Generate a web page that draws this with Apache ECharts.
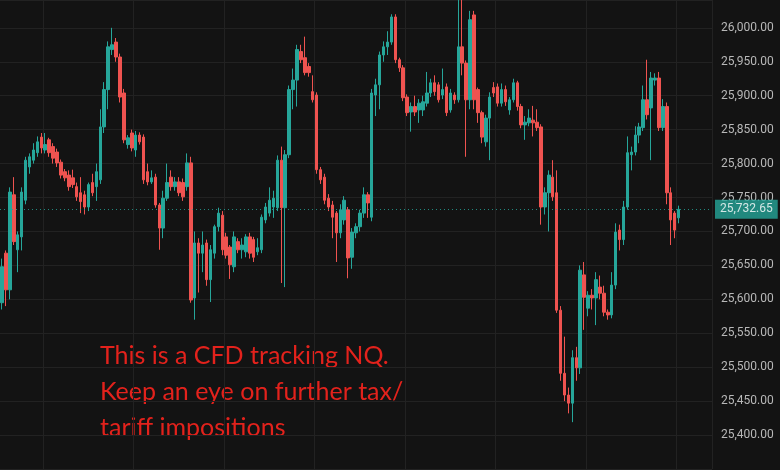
<!DOCTYPE html>
<html>
<head>
<meta charset="utf-8">
<script src="https://cdn.jsdelivr.net/npm/echarts@6/dist/echarts.min.js"></script>
<style>
  html, body { margin: 0; padding: 0; background: #131313; }
  #chart { width: 780px; height: 470px; }
</style>
</head>
<body>
<div id="chart"></div>
<script>
// OHLC, one value per candle
const opens = [
  25595, 25668, 25614, 25754, 25673, 25692, 25746, 25795, 25805, 25816,
  25839, 25820, 25835, 25825, 25817, 25802, 25788, 25783, 25779, 25766,
  25757, 25754, 25736, 25772, 25766, 25776, 25854, 25909, 25968, 25979,
  25957, 25904, 25828, 25845, 25820, 25842, 25839, 25788, 25773, 25780,
  25739, 25705, 25749, 25780, 25766, 25773, 25772, 25766, 25801, 25602,
  25683, 25668, 25683, 25629, 25668, 25707, 25724, 25692, 25677, 25648,
  25685, 25673, 25670, 25692, 25688, 25670, 25673, 25717, 25727, 25736,
  25735, 25805, 25735, 25813, 25909, 25923, 25965, 25956, 25943, 25906,
  25901, 25791, 25780, 25749, 25739, 25727, 25698, 25717, 25732, 25662,
  25698, 25707, 25727, 25754, 25721, 25901, 25916, 25960, 25972, 25979,
  26016, 25953, 25941, 25898, 25876, 25884, 25879, 25879, 25889, 25904,
  25919, 25916, 25901, 25913, 25879, 25901, 25894, 25972, 25948, 25894,
  26019, 25909, 25875, 25832, 25867, 25912, 25913, 25889, 25909, 25879,
  25894, 25919, 25884, 25857, 25860, 25864, 25861, 25854, 25736, 25757,
  25780, 25757, 25584, 25491, 25459, 25447, 25514, 25499, 25636, 25587,
  25606, 25602, 25618, 25609, 25581, 25577, 25621, 25702, 25688, 25736,
  25813, 25817, 25842, 25853, 25894, 25882, 25923, 25926, 25853, 25884,
  25757, 25727, 25720
];
const closes = [
  25648, 25614, 25758, 25685, 25695, 25758, 25805, 25810, 25820, 25832,
  25823, 25828, 25816, 25808, 25801, 25783, 25779, 25766, 25769, 25751,
  25744, 25736, 25769, 25757, 25788, 25854, 25909, 25972, 25975, 25957,
  25898, 25835, 25838, 25823, 25842, 25832, 25776, 25773, 25779, 25739,
  25705, 25749, 25772, 25766, 25773, 25757, 25751, 25801, 25599, 25683,
  25668, 25680, 25629, 25673, 25707, 25727, 25673, 25665, 25651, 25692,
  25673, 25680, 25692, 25668, 25662, 25676, 25721, 25736, 25746, 25749,
  25805, 25735, 25813, 25909, 25923, 25968, 25953, 25934, 25934, 25894,
  25791, 25776, 25746, 25736, 25721, 25698, 25732, 25746, 25661, 25699,
  25707, 25727, 25754, 25742, 25904, 25916, 25960, 25972, 25979, 26016,
  25953, 25941, 25897, 25875, 25884, 25876, 25889, 25891, 25904, 25919,
  25906, 25894, 25909, 25875, 25904, 25894, 25972, 25948, 25894, 26012,
  25894, 25875, 25839, 25867, 25898, 25904, 25889, 25909, 25891, 25894,
  25919, 25884, 25857, 25861, 25867, 25860, 25853, 25736, 25757, 25783,
  25751, 25584, 25491, 25459, 25447, 25514, 25499, 25643, 25603, 25606,
  25602, 25629, 25609, 25581, 25577, 25621, 25699, 25688, 25736, 25816,
  25817, 25842, 25854, 25894, 25872, 25926, 25926, 25853, 25884, 25757,
  25717, 25702, 25732.65
];
const lows = [
  25585, 25590, 25600, 25680, 25640, 25672, 25740, 25785, 25800, 25810,
  25815, 25815, 25810, 25800, 25795, 25778, 25774, 25760, 25764, 25745,
  25727, 25725, 25730, 25752, 25745, 25770, 25845, 25880, 25960, 25950,
  25890, 25830, 25822, 25818, 25810, 25828, 25770, 25768, 25770, 25735,
  25673, 25690, 25745, 25760, 25760, 25752, 25745, 25760, 25595, 25570,
  25610, 25640, 25620, 25596, 25660, 25700, 25665, 25660, 25630, 25640,
  25668, 25660, 25662, 25660, 25655, 25665, 25668, 25712, 25722, 25720,
  25730, 25624, 25618, 25808, 25880, 25884, 25948, 25930, 25928, 25890,
  25785, 25770, 25740, 25730, 25690, 25655, 25690, 25710, 25631, 25645,
  25690, 25700, 25720, 25720, 25715, 25870, 25880, 25950, 25960, 25975,
  25948, 25935, 25892, 25870, 25847, 25870, 25860, 25870, 25884, 25898,
  25900, 25890, 25895, 25870, 25875, 25888, 25890, 25930, 25810, 25880,
  25880, 25860, 25830, 25825, 25805, 25898, 25884, 25884, 25885, 25872,
  25890, 25878, 25852, 25835, 25855, 25840, 25848, 25710, 25725, 25700,
  25745, 25580, 25480, 25450, 25432, 25419, 25480, 25490, 25555, 25575,
  25585, 25562, 25600, 25575, 25570, 25572, 25615, 25672, 25680, 25732,
  25790, 25812, 25830, 25848, 25865, 25805, 25915, 25848, 25848, 25740,
  25680, 25690, 25712
];
const highs = [
  25660, 25672, 25765, 25780, 25700, 25765, 25810, 25815, 25830, 25840,
  25845, 25845, 25838, 25830, 25822, 25806, 25792, 25790, 25791, 25772,
  25780, 25760, 25772, 25785, 25800, 25880, 25920, 25980, 26000, 25985,
  25962, 25910, 25842, 25850, 25848, 25846, 25843, 25800, 25790, 25785,
  25742, 25760, 25800, 25790, 25780, 25780, 25778, 25815, 25810, 25700,
  25690, 25700, 25688, 25680, 25710, 25735, 25730, 25698, 25680, 25700,
  25690, 25690, 25696, 25698, 25692, 25690, 25725, 25742, 25765, 25760,
  25812, 25825, 25820, 25915, 25940, 25975, 25975, 25987, 25948, 25930,
  25905, 25795, 25785, 25755, 25745, 25730, 25740, 25752, 25736, 25705,
  25712, 25732, 25765, 25758, 25910, 25925, 25965, 25980, 25995, 26020,
  26020, 25956, 25945, 25902, 25890, 25900, 25895, 25900, 25935, 25925,
  25930, 25920, 25940, 25918, 25910, 25905, 26045, 26045, 25952, 26025,
  26025, 25912, 25878, 25872, 25905, 25920, 25918, 25918, 25915, 25898,
  25925, 25922, 25888, 25870, 25880, 25885, 25880, 25858, 25765, 25790,
  25805, 25790, 25590, 25545, 25470, 25525, 25530, 25650, 25655, 25612,
  25615, 25640, 25635, 25620, 25585, 25640, 25712, 25710, 25745, 25840,
  25825, 25855, 25860, 25915, 25953, 25935, 25933, 25935, 25895, 25890,
  25765, 25730, 25738
];
const lastPrice = 25732.65;
const emptySlots = 8;
// price scale: 25,350 at the bottom edge, top edge a little above 26,000
const yRange = { min: 25350, max: 26041, step: 50 };

const candles = opens.map((o, i) => [o, closes[i], lows[i], highs[i]]);
for (let k = 0; k < emptySlots; k++) candles.push('-');
const cats = candles.map((_, i) => String(i));

function fmt(v) {
  const s = v.toFixed(2);
  const parts = s.split('.');
  return parts[0].replace(/\B(?=(\d{3})+(?!\d))/g, ',') + '.' + parts[1];
}

const chart = echarts.init(document.getElementById('chart'));
chart.setOption({
  backgroundColor: '#131313',
  animation: false,
  grid: { left: 0, right: 68, top: 0, bottom: 1 },
  xAxis: {
    type: 'category',
    data: cats,
    boundaryGap: true,
    axisLine: { show: false },
    axisTick: { show: false },
    axisLabel: { show: false },
    splitLine: {
      show: true,
      interval: (idx) => idx >= 11 && (idx - 11) % 23 === 0,
      lineStyle: { color: '#222222', width: 1 }
    }
  },
  yAxis: {
    type: 'value',
    position: 'right',
    min: yRange.min,
    max: yRange.max,
    interval: yRange.step,
    axisLine: { show: false },
    axisTick: { show: false },
    splitLine: { lineStyle: { color: '#222222', width: 1 } },
    axisLabel: {
      color: '#b8b8b8',
      fontFamily: 'Roboto',
      fontSize: 12,
      margin: 9,
      showMinLabel: false,
      showMaxLabel: false,
      formatter: (v) => fmt(v)
    }
  },
  series: [{
    type: 'candlestick',
    data: candles,
    barWidth: 3,
    itemStyle: {
      color: '#26a69a',
      color0: '#ef5350',
      borderColor: '#26a69a',
      borderColor0: '#ef5350',
      borderWidth: 1
    },
    markLine: {
      silent: true,
      symbol: 'none',
      data: [{ yAxis: lastPrice }],
      lineStyle: { color: '#26a69a', type: [1, 3], width: 1, opacity: 0.8 },
      label: {
        position: 'end',
        distance: 3,
        formatter: () => fmt(lastPrice),
        backgroundColor: '#26a69a',
        color: '#ffffff',
        fontFamily: 'Roboto',
        fontSize: 12,
        padding: [4, 5, 3, 5]
      }
    }
  }],
  graphic: [{
    type: 'text',
    left: 100,
    top: 338,
    style: {
      text: 'This is a CFD tracking NQ.\nKeep an eye on further tax/\ntariff impositions',
      fill: '#e3221c',
      font: '25px Lato',
      lineHeight: 36
    }
  }]
});
</script>
</body>
</html>
